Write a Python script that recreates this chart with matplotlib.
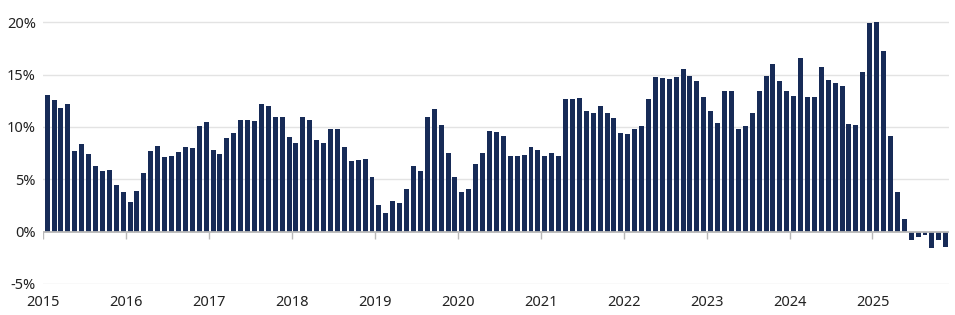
import matplotlib
matplotlib.use("Agg")
import matplotlib.pyplot as plt
import numpy as np

# Monthly values, Jan 2015 - Nov 2025 (% y/y)
VALUES_2015 = [13.1, 12.6, 11.8, 12.2, 7.7, 8.4, 7.4, 6.3, 5.8, 5.9, 4.5, 3.8]
VALUES_2016 = [2.8, 3.9, 5.6, 7.7, 8.2, 7.1, 7.2, 7.6, 8.1, 8.0, 10.1, 10.5]
VALUES_2017 = [7.8, 7.4, 8.9, 9.4, 10.7, 10.7, 10.6, 12.2, 12.0, 11.0, 11.0, 9.0]
VALUES_2018 = [8.5, 11.0, 10.7, 8.8, 8.5, 9.8, 9.8, 8.1, 6.7, 6.8, 6.9, 5.2]
VALUES_2019 = [2.5, 1.8, 2.9, 2.7, 4.1, 6.3, 5.8, 11.0, 11.7, 10.2, 7.5, 5.2]
VALUES_2020 = [3.8, 4.1, 6.5, 7.5, 9.6, 9.5, 9.1, 7.2, 7.2, 7.3, 8.1, 7.8]
VALUES_2021 = [7.2, 7.5, 7.2, 12.7, 12.7, 12.8, 11.5, 11.3, 12.0, 11.3, 10.9, 9.4]
VALUES_2022 = [9.3, 9.8, 10.1, 12.7, 14.8, 14.7, 14.6, 14.8, 15.5, 14.9, 14.4, 12.9]
VALUES_2023 = [11.5, 10.4, 13.4, 13.4, 9.8, 10.1, 11.3, 13.4, 14.9, 16.0, 14.4, 13.4]
VALUES_2024 = [13.0, 16.6, 12.9, 12.9, 15.7, 14.5, 14.2, 13.9, 10.3, 10.2, 15.3, 19.9]
VALUES_2025 = [20.0, 17.3, 9.1, 3.8, 1.2, -0.8, -0.5, -0.3, -1.6, -0.8, -1.5]

YEARS = list(range(2015, 2026))
Y_TICKS = [-5, 0, 5, 10, 15, 20]

BAR_COLOUR = "#172B57"
GRID_COLOUR = "#e3e3e3"
TEXT_COLOUR = "#222222"

plt.rcParams["font.family"] = ["Noto Sans", "DejaVu Sans"]


def main() -> None:
    values = (VALUES_2015 + VALUES_2016 + VALUES_2017 + VALUES_2018 + VALUES_2019
              + VALUES_2020 + VALUES_2021 + VALUES_2022 + VALUES_2023
              + VALUES_2024 + VALUES_2025)
    months = np.arange(len(values))

    fig = plt.figure(figsize=(9.55, 3.15), dpi=100)
    ax = fig.add_axes([0.045, 0.0987, 0.9482, 0.847])

    ax.bar(months + 0.6, values, width=0.72, color=BAR_COLOUR,
           edgecolor="none", zorder=2)

    ax.set_xlim(0, len(values))
    ax.set_ylim(-5, 20.5)

    # gridlines and zero line
    for y in Y_TICKS:
        if y == 0:
            continue
        ax.axhline(y, color=GRID_COLOUR, linewidth=1, zorder=0)
    ax.axhline(0, color="#b8b8b8", linewidth=1.3, zorder=3)

    # year ticks hang down from the zero line
    year_pos = [12 * i for i in range(len(YEARS))]
    ax.vlines(year_pos, -0.7, 0, color="#b8b8b8", linewidth=1, zorder=3)

    ax.set_xticks(year_pos)
    ax.set_xticklabels([str(y) for y in YEARS])
    ax.set_yticks(Y_TICKS)
    ax.set_yticklabels([f"{y}%" for y in Y_TICKS])
    ax.tick_params(axis="both", length=0, labelsize=10.5, colors=TEXT_COLOUR)
    ax.tick_params(axis="x", pad=8)
    ax.tick_params(axis="y", pad=5)

    for spine in ax.spines.values():
        spine.set_visible(False)

    fig.savefig("out.png", dpi=100)
    plt.close(fig)


if __name__ == "__main__":
    main()
